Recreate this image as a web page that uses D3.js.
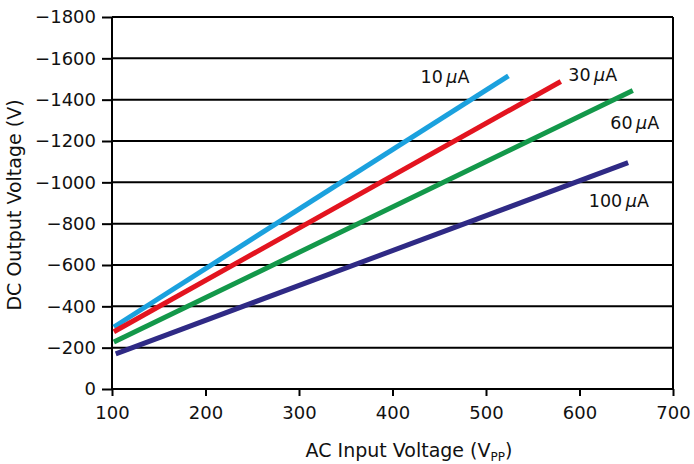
<!DOCTYPE html>
<html><head><meta charset="utf-8">
<script src="https://cdn.jsdelivr.net/npm/d3@7"></script>
<style>body{margin:0;background:#fff}svg{display:block}text{font-family:"DejaVu Sans",sans-serif;fill:#111}</style>
</head><body><svg id="c" width="694" height="464"></svg>
<script>
const seriesNames = ["10", "30", "60", "100"];
const seriesColors = ["#1ba1de", "#e3141f", "#13984a", "#2f2a85"];
const series10 = [[102, -300], [524, -1515]];
const series30 = [[102, -277], [580, -1488]];
const series60 = [[102, -227], [657, -1444]];
const series100 = [[104, -170], [652, -1095]];
const xTicks = [100, 200, 300, 400, 500, 600, 700];
const yTicks = [0, -200, -400, -600, -800, -1000, -1200, -1400, -1600, -1800];
const labelPos = [[430, -1481], [588, -1492], [633, -1259], [610, -881]];

const allSeries = [series10, series30, series60, series100];
const svg = d3.select("#c");
const L = 112, R = 673, T = 17, B = 389;
const x = d3.scaleLinear().domain([100, 700]).range([L, R]);
const y = d3.scaleLinear().domain([0, -1800]).range([B, T]);
const fmt = d3.format("d");

// grid
svg.append("g").selectAll("line").data(yTicks).join("line")
  .attr("x1", L).attr("x2", R).attr("y1", d => y(d)).attr("y2", d => y(d))
  .attr("stroke", "#000").attr("stroke-width", 2);
// right border
svg.append("line").attr("x1", R).attr("x2", R).attr("y1", T).attr("y2", B)
  .attr("stroke", "#000").attr("stroke-width", 2);

const yAxis = svg.append("g").attr("transform", `translate(${L},0)`)
  .call(d3.axisLeft(y).tickValues(yTicks).tickFormat(fmt).tickSize(10).tickSizeOuter(0).tickPadding(6));
const xAxis = svg.append("g").attr("transform", `translate(0,${B})`)
  .call(d3.axisBottom(x).tickValues(xTicks).tickFormat(fmt).tickSize(7).tickSizeOuter(0).tickPadding(10));
[yAxis, xAxis].forEach(a => {
  a.selectAll("path").attr("stroke", "#000").attr("stroke-width", 2);
  a.selectAll("line").attr("stroke", "#000").attr("stroke-width", 2);
  a.selectAll("text").style("font-size", "18px").attr("fill", "#111")
    .style("font-family", '"DejaVu Sans",sans-serif');
});
yAxis.select(".domain").attr("d", `M0,${T}V${B}`);
xAxis.select(".domain").attr("d", `M${L},0H${R}`);

// lines
const line = d3.line().x(d => x(d[0])).y(d => y(d[1]));
svg.append("g").selectAll("path").data(allSeries).join("path")
  .attr("d", line).attr("fill", "none")
  .attr("stroke", (d, i) => seriesColors[i]).attr("stroke-width", 5);

// labels
const lab = svg.append("g").selectAll("text").data(seriesNames).join("text")
  .attr("x", (d, i) => x(labelPos[i][0])).attr("y", (d, i) => y(labelPos[i][1]))
  .style("font-size", "17.5px");
lab.append("tspan").text(d => d + "\u2009");
lab.append("tspan").text("\u03bc").style("font-style", "italic");
lab.append("tspan").text("A");

// axis titles
svg.append("text").attr("transform", `translate(21,205) rotate(-90)`)
  .attr("text-anchor", "middle").style("font-size", "19px").text("DC Output Voltage (V)");
const xt = svg.append("text").attr("x", 409).attr("y", 457)
  .attr("text-anchor", "middle").style("font-size", "19px");
xt.append("tspan").text("AC Input Voltage (V");
xt.append("tspan").text("PP").style("font-size", "12px").attr("dy", 4);
xt.append("tspan").text(")").attr("dy", -4);
</script></body></html>
